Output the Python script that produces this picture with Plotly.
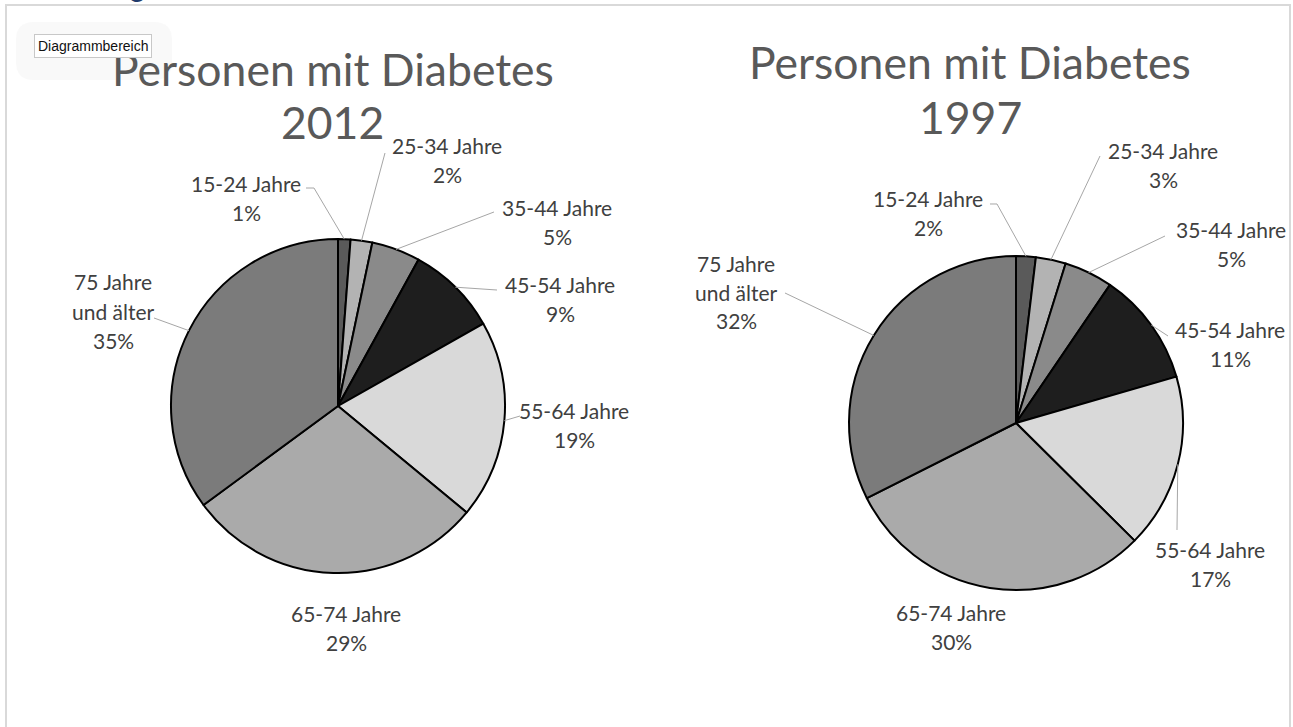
import math
import plotly.graph_objects as go

W, H = 1293, 727

# ---------------- data ----------------
categories = ["15-24 Jahre", "25-34 Jahre", "35-44 Jahre", "45-54 Jahre",
              "55-64 Jahre", "65-74 Jahre", "75 Jahre<br>und älter"]
values_2012 = [1.2, 2.1, 4.7, 8.8, 19.2, 28.9, 35.1]
values_1997 = [1.9, 2.9, 4.7, 11.0, 16.9, 30.1, 32.4]
titles = ["Personen mit Diabetes", "Personen mit Diabetes"]
years = ["2012", "1997"]

# ---------------- styles / layout ----------------
slice_colors = ["#5a5a5a", "#b3b3b3", "#8a8a8a", "#1e1e1e", "#d9d9d9", "#aaaaaa", "#7b7b7b"]
FONT = "Lato"
TEXT_COLOR = "#404040"
TITLE_COLOR = "#595959"
LEADER_COLOR = "#a6a6a6"
LABEL_SIZE = 21
TITLE_SIZE = 44.5

# pie geometry in pixels: center x, center y, radius
pies = [dict(cx=338, cy=406, r=167), dict(cx=1016, cy=423, r=167)]
title_pos = [dict(x=333, y1=68, y2=122), dict(x=970, y1=62, y2=117)]

# label block centres (pixels) and leader start points (pixels, None = no leader)
label_pos = [
    [(246, 198), (447, 160), (557, 222), (560, 299), (574, 425), (346, 628), (113, 311)],
    [(928, 213), (1163, 165), (1231, 244), (1230, 344), (1210, 564), (951, 627), (736, 292)],
]
leader_start = [
    [[(306, 188), (314, 188)], [(385, 153)], [(494, 212)], [(497, 290)], [(520, 416)], None, [(154, 318)]],
    [[(990, 204), (997, 204)], [(1100, 156)], [(1165, 236)], [(1168, 336)], [(1177, 530)], None, [(785, 293)]],
]
LINE_H = 29


def px(x):
    return x / W


def py(y):
    return 1 - y / H


fig = go.Figure()
annotations = []
shapes = []

# frame
shapes.append(dict(type="rect", xref="paper", yref="paper", x0=px(6), x1=px(1290), y0=py(5), y1=py(740),
                   line=dict(color="#d9d9d9", width=2), fillcolor="rgba(0,0,0,0)", layer="below"))

for i, vals in enumerate([values_2012, values_1997]):
    p = pies[i]
    fig.add_trace(go.Pie(
        labels=[c.replace("<br>", " ") for c in categories], values=vals, sort=False,
        direction="clockwise", rotation=0, textinfo="none", hoverinfo="label+percent",
        marker=dict(colors=slice_colors, line=dict(color="black", width=2)),
        domain=dict(x=[px(p["cx"] - p["r"]), px(p["cx"] + p["r"])],
                    y=[py(p["cy"] + p["r"]), py(p["cy"] - p["r"])]),
        showlegend=False,
    ))
    total = sum(vals)
    cum = 0.0
    for j, v in enumerate(vals):
        mid = (cum + v / 2) / total * 2 * math.pi
        cum += v
        ex = p["cx"] + p["r"] * math.sin(mid)
        ey = p["cy"] - p["r"] * math.cos(mid)
        lines = categories[j].split("<br>") + ["%d%%" % round(v / total * 100)]
        lx, ly = label_pos[i][j]
        n = len(lines)
        for k, t in enumerate(lines):
            yy = ly + (k - (n - 1) / 2) * LINE_H
            annotations.append(dict(x=px(lx), y=py(yy), xref="paper", yref="paper", text=t,
                                    showarrow=False, xanchor="center", yanchor="middle",
                                    font=dict(family=FONT, size=LABEL_SIZE, color=TEXT_COLOR)))
        ls = leader_start[i][j]
        if ls:
            pts = ls + [(ex, ey)]
            path = "M " + " L ".join("%f,%f" % (px(a), py(b)) for a, b in pts)
            shapes.append(dict(type="path", xref="paper", yref="paper", path=path,
                               line=dict(color=LEADER_COLOR, width=1)))
    t = title_pos[i]
    annotations.append(dict(x=px(t["x"]), y=py(t["y1"]), xref="paper", yref="paper", text=titles[i],
                            showarrow=False, xanchor="center", yanchor="middle",
                            font=dict(family=FONT, size=TITLE_SIZE, color=TITLE_COLOR)))
    annotations.append(dict(x=px(t["x"]), y=py(t["y2"]), xref="paper", yref="paper", text=years[i],
                            showarrow=False, xanchor="center", yanchor="middle",
                            font=dict(family=FONT, size=TITLE_SIZE, color=TITLE_COLOR)))

# tooltip glow (rounded) + tooltip
gx0, gx1, gy0, gy1, rr = 16, 172, 22, 80, 18
glow_path = ("M {a},{b} L {c},{b} Q {d},{b} {d},{e} L {d},{f} Q {d},{g} {c},{g} L {a},{g} "
             "Q {h},{g} {h},{f} L {h},{e} Q {h},{b} {a},{b} Z").format(
    a=px(gx0 + rr), b=py(gy0), c=px(gx1 - rr), d=px(gx1), e=py(gy0 + rr), f=py(gy1 - rr),
    g=py(gy1), h=px(gx0))
shapes.append(dict(type="path", xref="paper", yref="paper", path=glow_path,
                   line=dict(width=0), fillcolor="rgba(238,238,238,0.35)", layer="above"))
annotations.append(dict(x=px(93), y=py(46), xref="paper", yref="paper", text="Diagrammbereich",
                        showarrow=False, xanchor="center", yanchor="middle",
                        bgcolor="white", bordercolor="#c8c8c8", borderwidth=1, borderpad=3,
                        font=dict(family="Liberation Sans", size=14, color="#111111")))
# cut-off blue text at top edge
annotations.append(dict(x=px(137), y=py(-14), xref="paper", yref="paper", text="g",
                        showarrow=False, xanchor="center", yanchor="middle",
                        font=dict(family=FONT, size=28, color="#1f3a6b")))

fig.update_layout(width=W, height=H, autosize=False, margin=dict(l=0, r=0, t=0, b=0),
                  paper_bgcolor="white", plot_bgcolor="white",
                  annotations=annotations, shapes=shapes)
fig.write_html("out.html", config={"displayModeBar": False},
               post_script="document.body.style.margin='0px';document.body.style.overflow='hidden';")
